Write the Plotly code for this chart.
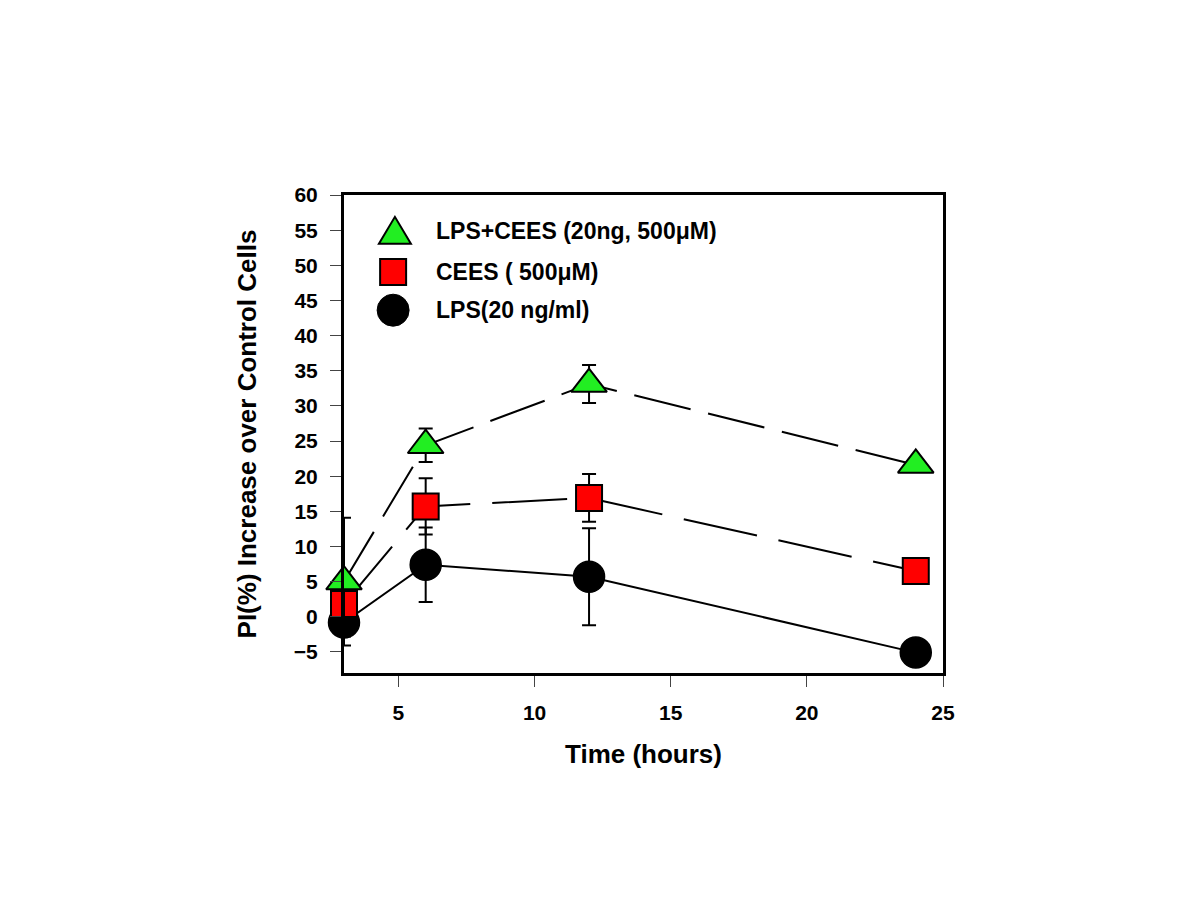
import plotly.graph_objects as go

# ---- data ----
time_h = [3, 6, 12, 24]

lps = [-0.8, 7.4, 5.7, -5.1]
lps_err = [2.0, 5.3, 6.9, 0.0]

cees = [1.8, 15.7, 16.9, 6.5]
cees_err = [1.5, 4.0, 3.4, 0.0]

lps_cees = [5.0, 24.4, 33.1, 21.6]
lps_cees_err = [9.1, 2.4, 2.7, 0.0]

x_ticks = [5, 10, 15, 20, 25]
y_ticks = list(range(-5, 61, 5))

names = ["LPS(20 ng/ml)", "CEES ( 500\u03bcM)", "LPS+CEES (20ng, 500\u03bcM)"]

FONT = "Arial, 'Liberation Sans', Helvetica, sans-serif"

fig = go.Figure()

err_style = dict(type="data", visible=True, color="black", thickness=2, width=7)

fig.add_trace(go.Scatter(
    x=time_h, y=lps, name=names[0], mode="lines+markers",
    line=dict(color="black", width=2),
    marker=dict(symbol="circle", size=31, color="black", line=dict(color="black", width=1.5)),
    error_y=dict(array=lps_err, **err_style),
    cliponaxis=False, showlegend=False,
))
fig.add_trace(go.Scatter(
    x=time_h, y=cees, name=names[1], mode="lines+markers",
    line=dict(color="black", width=2, dash="75px,22px"),
    marker=dict(symbol="square", size=26, color="#FF0000", line=dict(color="black", width=2)),
    error_y=dict(array=cees_err, **err_style),
    cliponaxis=False, showlegend=False,
))
fig.add_trace(go.Scatter(
    x=time_h, y=lps_cees, name=names[2], mode="lines+markers",
    line=dict(color="black", width=2, dash="58px,18px"),
    marker=dict(symbol="triangle-up", size=31, color="#22EE22", line=dict(color="black", width=2)),
    error_y=dict(array=lps_cees_err, **err_style),
    cliponaxis=False, showlegend=False,
))

# ---- custom legend (large symbols as in the reference) ----
leg_y = [0.925, 0.839, 0.759]
leg_x = 0.085
shapes = [
    dict(type="path", xref="paper", yref="paper", xsizemode="pixel", ysizemode="pixel",
         xanchor=leg_x, yanchor=leg_y[0],
         path="M-16,-13 L16,-13 L0,14 Z",
         fillcolor="#22EE22", line=dict(color="black", width=2)),
    dict(type="rect", xref="paper", yref="paper", xsizemode="pixel", ysizemode="pixel",
         xanchor=leg_x - 0.003, yanchor=leg_y[1], x0=-13, x1=13, y0=-13, y1=13,
         fillcolor="#FF0000", line=dict(color="black", width=2)),
    dict(type="circle", xref="paper", yref="paper", xsizemode="pixel", ysizemode="pixel",
         xanchor=leg_x - 0.003, yanchor=leg_y[2], x0=-16, x1=16, y0=-16, y1=16,
         fillcolor="black", line=dict(color="black", width=1)),
]
annotations = []
for txt, yy in zip([names[2], names[1], names[0]], leg_y):
    annotations.append(dict(
        text="<b>" + txt + "</b>", xref="paper", yref="paper", x=0.150, y=yy,
        xanchor="left", yanchor="middle", showarrow=False,
        font=dict(family=FONT, size=23, color="black"),
    ))

axis_common = dict(
    showline=True, linecolor="black", linewidth=3, mirror=True,
    ticks="outside", ticklen=11, tickwidth=1, tickcolor="#444",
    showgrid=False, zeroline=False,
    tickfont=dict(family=FONT, size=21, color="black", weight="bold"),
)

# page body has an 8px margin, so margins are shifted to keep the plot box in place
fig.update_layout(
    width=1200, height=900,
    paper_bgcolor="white", plot_bgcolor="white",
    margin=dict(l=336, r=265, t=187, b=235),
    xaxis=dict(range=[3, 25], tickvals=x_ticks, ticklabelstandoff=8,
               title=dict(text="Time (hours)", standoff=22,
                          font=dict(family=FONT, size=26, color="black", weight="bold")),
               **axis_common),
    yaxis=dict(range=[-8, 60], tickvals=y_ticks, ticklabelstandoff=8,
               title=dict(text="PI(%) Increase over Control Cells", standoff=30,
                          font=dict(family=FONT, size=26, color="black", weight="bold")),
               **axis_common),
    shapes=shapes,
    annotations=annotations,
    showlegend=False,
)

fig.write_html("out.html")
